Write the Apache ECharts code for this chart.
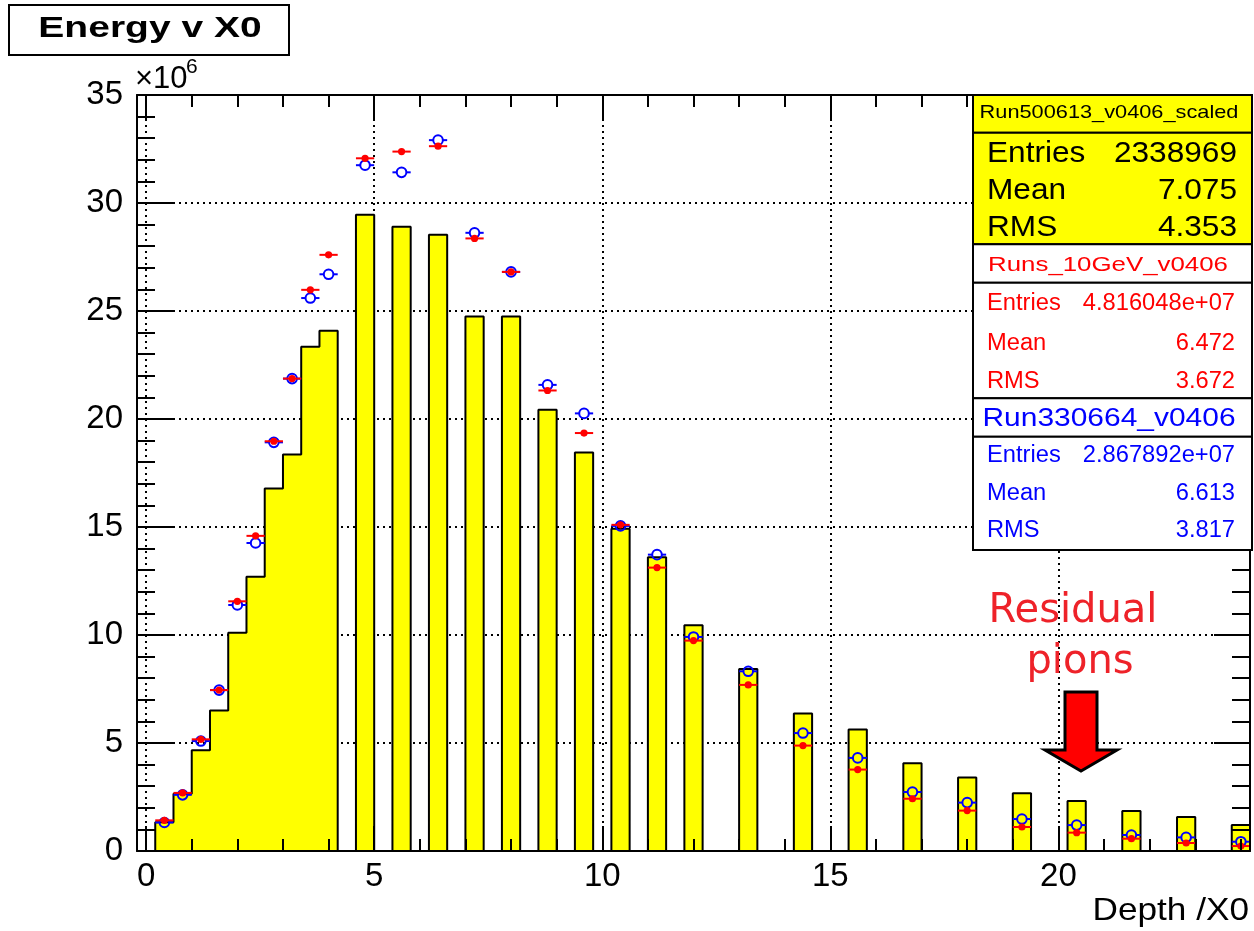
<!DOCTYPE html>
<html>
<head>
<meta charset="utf-8">
<script src="https://cdn.jsdelivr.net/npm/echarts@6/dist/echarts.min.js"></script>
<style>
html,body{margin:0;padding:0;background:#fff;}
#chart{width:1254px;height:931px;}
</style>
</head>
<body>
<div id="chart"></div>
<script>
// ---------------- data (values in units of 10^6) ----------------
const binWidth = 0.4;
const xMin = -0.2;
const xMax = 24.2;
const binCenters = [0.4, 0.8, 1.2, 1.6, 2.0, 2.4, 2.8, 3.2, 3.6, 4.0,
  4.8, 5.6, 6.4, 7.2, 8.0, 8.8, 9.6, 10.4, 11.2, 12.0,
  13.2, 14.4, 15.6, 16.8, 18.0, 19.2, 20.4, 21.6, 22.8, 24.0];
// Run500613_v0406_scaled (yellow histogram)
const histValues = [1.33, 2.65, 4.66, 6.5, 10.1, 12.7, 16.78, 18.36, 23.34, 24.09,
  29.46, 28.9, 28.53, 24.74, 24.74, 20.43, 18.45, 14.92, 13.6, 10.45,
  8.43, 6.36, 5.62, 4.06, 3.40, 2.67, 2.31, 1.85, 1.57, 1.20];
// Runs_10GeV_v0406 (red filled points)
const redValues = [1.42, 2.69, 5.17, 7.45, 11.56, 14.59, 18.97, 21.87, 25.98, 27.6,
  32.07, 32.38, 32.63, 28.36, 26.81, 21.32, 19.35, 15.1, 13.12, 9.74,
  7.69, 4.88, 3.77, 2.42, 1.87, 1.11, 0.85, 0.57, 0.37, 0.23];
// Run330664_v0406 (blue open points)
const blueValues = [1.32, 2.6, 5.09, 7.45, 11.39, 14.26, 18.92, 21.87, 25.6, 26.7,
  31.75, 31.42, 32.91, 28.62, 26.81, 21.58, 20.26, 15.05, 13.72, 9.91,
  8.32, 5.46, 4.31, 2.73, 2.24, 1.48, 1.20, 0.74, 0.63, 0.43];
const xMajorTicks = [0, 5, 10, 15, 20];
const xMinorTicks = [1, 2, 3, 4, 6, 7, 8, 9, 11, 12, 13, 14, 16, 17, 18, 19, 21, 22, 23, 24];
const yMin = 0, yMax = 35, yInterval = 5;

const statsTitle1 = 'Run500613_v0406_scaled';
const stats1 = [['Entries', '2338969'], ['Mean', '7.075'], ['RMS', '4.353']];
const statsTitle2 = 'Runs_10GeV_v0406';
const stats2 = [['Entries', '4.816048e+07'], ['Mean', '6.472'], ['RMS', '3.672']];
const statsTitle3 = 'Run330664_v0406';
const stats3 = [['Entries', '2.867892e+07'], ['Mean', '6.613'], ['RMS', '3.817']];

// ---------------- build histogram outline from bins ----------------
const nBins = Math.round((xMax - xMin) / binWidth);
const histLine = [];
for (let k = 0; k < nBins; k++) {
  const lo = +(xMin + k * binWidth).toFixed(4);
  const c = lo + binWidth / 2;
  const idx = binCenters.findIndex(v => Math.abs(v - c) < 1e-6);
  histLine.push([lo, idx >= 0 ? histValues[idx] : 0]);
}
histLine.push([xMax, histLine[histLine.length - 1][1]]);

const FONT = '"Liberation Sans", Arial, Helvetica, sans-serif';
const chart = echarts.init(document.getElementById('chart'), null, {renderer: 'canvas'});

const dotted = {color: '#000', width: 2, type: [2, 4]};
const tickLine = {color: '#000', width: 2};

function xAxisBase(extra) {
  return Object.assign({
    type: 'value', min: xMin, max: xMax, gridIndex: 0,
    axisLine: {show: false, onZero: false},
    axisTick: {show: false},
    axisLabel: {show: false},
    splitLine: {show: false}
  }, extra);
}
function yAxisBase(extra) {
  return Object.assign({
    type: 'value', min: yMin, max: yMax, interval: yInterval, gridIndex: 0,
    axisLine: {show: false, onZero: false},
    axisTick: {show: false},
    axisLabel: {show: false},
    splitLine: {show: false}
  }, extra);
}

function txt(x, y, text, size, color, align, opts) {
  opts = opts || {};
  return {
    type: 'text', x: x, y: y, z: 110,
    scaleX: opts.sx || 1, scaleY: opts.sy || 1,
    style: {
      text: text, fill: color, fontSize: size, fontFamily: opts.family || FONT,
      fontWeight: opts.weight || 'normal',
      align: align, textAlign: align, verticalAlign: 'middle', textVerticalAlign: 'middle'
    }
  };
}
function box(x, y, w, h, fill) {
  return {type: 'rect', z: 105, shape: {x: x, y: y, width: w, height: h},
    style: {fill: fill, stroke: '#000', lineWidth: 2}};
}

const graphics = [];
// title box
graphics.push(box(9, 5, 280, 50, '#fff'));
graphics.push(txt(150, 29, 'Energy v X0', 30, '#000', 'center', {weight: 'bold', sx: 1.3}));
// x10^6
graphics.push({type: 'text', x: 135, y: 79, z: 110, style: {text: '\u00d710', fill: '#000', fontSize: 31, fontFamily: FONT, align: 'left', textAlign: 'left', verticalAlign: 'middle', textVerticalAlign: 'middle'}});
graphics.push({type: 'text', x: 186, y: 67, z: 110, style: {text: '6', fill: '#000', fontSize: 21, fontFamily: FONT, align: 'left', textAlign: 'left', verticalAlign: 'middle', textVerticalAlign: 'middle'}});
// axis title
graphics.push(txt(1249, 911, 'Depth /X0', 32, '#000', 'right', {sx: 1.1}));

// stat boxes
const bx = 973, bw = 279;
graphics.push(box(bx, 95, bw, 37.7, '#ffff00'));
graphics.push(box(bx, 132.7, bw, 111.6, '#ffff00'));
graphics.push(box(bx, 244.3, bw, 38.4, '#ffffff'));
graphics.push(box(bx, 282.7, bw, 115.6, '#ffffff'));
graphics.push(box(bx, 398.3, bw, 38.4, '#ffffff'));
graphics.push(box(bx, 436.7, bw, 113.3, '#ffffff'));
graphics.push(txt(1109, 113, statsTitle1, 18.6, '#000', 'center', {sx: 1.17}));
const rows1 = [154, 191, 228];
stats1.forEach((r, i) => {
  graphics.push(txt(987, rows1[i], r[0], 29, '#000', 'left', {sx: 1.09}));
  graphics.push(txt(1237, rows1[i], r[1], 29, '#000', 'right', {sx: 1.09}));
});
graphics.push(txt(1108, 265, statsTitle2, 21, '#ff0000', 'center', {sx: 1.23}));
const rows2 = [304, 344, 382];
stats2.forEach((r, i) => {
  graphics.push(txt(987, rows2[i], r[0], 23, '#ff0000', 'left', {sx: 1.03}));
  graphics.push(txt(1235, rows2[i], r[1], 23, '#ff0000', 'right', {sx: 1.03}));
});
graphics.push(txt(1109, 419, statsTitle3, 25.6, '#0000ff', 'center', {sx: 1.17}));
const rows3 = [456, 494, 531];
stats3.forEach((r, i) => {
  graphics.push(txt(987, rows3[i], r[0], 23, '#0000ff', 'left', {sx: 1.03}));
  graphics.push(txt(1235, rows3[i], r[1], 23, '#0000ff', 'right', {sx: 1.03}));
});

// annotation
graphics.push(txt(1073, 612, 'Residual', 40, '#ee2229', 'center', {family: '"DejaVu Sans", sans-serif'}));
graphics.push(txt(1080, 663, 'pions', 40, '#ee2229', 'center', {family: '"DejaVu Sans", sans-serif'}));
graphics.push({type: 'polygon', z: 110,
  shape: {points: [[1065, 692], [1097, 692], [1097, 750], [1117, 750], [1081, 771], [1045, 750], [1065, 750]]},
  style: {fill: '#ff0000', stroke: '#000', lineWidth: 3, lineJoin: 'miter'}});

const option = {
  animation: false,
  backgroundColor: '#ffffff',
  grid: {left: 137, right: 4, top: 95, bottom: 80, containLabel: false},
  xAxis: [
    xAxisBase({position: 'bottom', splitNumber: 5,
      axisTick: {show: false, customValues: xMajorTicks},
      axisLabel: {show: true, customValues: xMajorTicks, fontSize: 33, fontFamily: FONT, color: '#000', margin: 9},
      splitLine: {show: true, lineStyle: dotted}}),
    xAxisBase({position: 'bottom', z: 10, axisLine: {show: true, onZero: false, lineStyle: tickLine},
      axisTick: {show: true, inside: true, length: 25, customValues: xMajorTicks, lineStyle: tickLine}}),
    xAxisBase({position: 'bottom', z: 10,
      axisTick: {show: true, inside: true, length: 12, customValues: xMinorTicks, lineStyle: tickLine}}),
    xAxisBase({position: 'top', z: 10, axisLine: {show: true, onZero: false, lineStyle: tickLine},
      axisTick: {show: true, inside: true, length: 25, customValues: xMajorTicks, lineStyle: tickLine}}),
    xAxisBase({position: 'top', z: 10,
      axisTick: {show: true, inside: true, length: 12, customValues: xMinorTicks, lineStyle: tickLine}})
  ],
  yAxis: [
    yAxisBase({position: 'left',
      axisLabel: {show: true, fontSize: 33, fontFamily: FONT, color: '#000', margin: 14},
      splitLine: {show: true, lineStyle: dotted}}),
    yAxisBase({position: 'left', z: 10, axisLine: {show: true, onZero: false, lineStyle: tickLine},
      axisTick: {show: true, inside: true, length: 36, lineStyle: tickLine},
      minorTick: {show: true, splitNumber: 5, length: 18, lineStyle: tickLine}}),
    yAxisBase({position: 'right', z: 10, axisLine: {show: true, onZero: false, lineStyle: tickLine},
      axisTick: {show: true, inside: true, length: 36, lineStyle: tickLine},
      minorTick: {show: true, splitNumber: 5, length: 18, lineStyle: tickLine}})
  ],
  series: [
    {
      name: 'Run500613_v0406_scaled', type: 'line', xAxisIndex: 0, yAxisIndex: 0,
      step: 'end', symbol: 'none', z: 2,
      lineStyle: {color: '#000', width: 2},
      areaStyle: {color: '#ffff00', opacity: 1},
      data: histLine
    },
    {
      name: 'Run330664_v0406', type: 'custom', xAxisIndex: 0, yAxisIndex: 0, z: 3,
      data: binCenters.map((c, i) => [c, blueValues[i]]),
      renderItem: function (params, api) {
        const x = api.value(0), y = api.value(1);
        const p = api.coord([x, y]);
        const l = api.coord([x - binWidth / 2, y]);
        const r = api.coord([x + binWidth / 2, y]);
        const rad = 4.8;
        const st = {stroke: '#0000ff', lineWidth: 2};
        return {type: 'group', children: [
          {type: 'line', shape: {x1: l[0], y1: p[1], x2: p[0] - rad, y2: p[1]}, style: st},
          {type: 'line', shape: {x1: p[0] + rad, y1: p[1], x2: r[0], y2: p[1]}, style: st},
          {type: 'circle', shape: {cx: p[0], cy: p[1], r: rad}, style: {stroke: '#0000ff', lineWidth: 2, fill: 'none'}}
        ]};
      }
    },
    {
      name: 'Runs_10GeV_v0406', type: 'custom', xAxisIndex: 0, yAxisIndex: 0, z: 4,
      data: binCenters.map((c, i) => [c, redValues[i]]),
      renderItem: function (params, api) {
        const x = api.value(0), y = api.value(1);
        const p = api.coord([x, y]);
        const l = api.coord([x - binWidth / 2, y]);
        const r = api.coord([x + binWidth / 2, y]);
        return {type: 'group', children: [
          {type: 'line', shape: {x1: l[0], y1: p[1], x2: r[0], y2: p[1]}, style: {stroke: '#ff0000', lineWidth: 2}},
          {type: 'circle', shape: {cx: p[0], cy: p[1], r: 3.6}, style: {fill: '#ff0000'}}
        ]};
      }
    }
  ],
  graphic: graphics
};
chart.setOption(option);
</script>
</body>
</html>
